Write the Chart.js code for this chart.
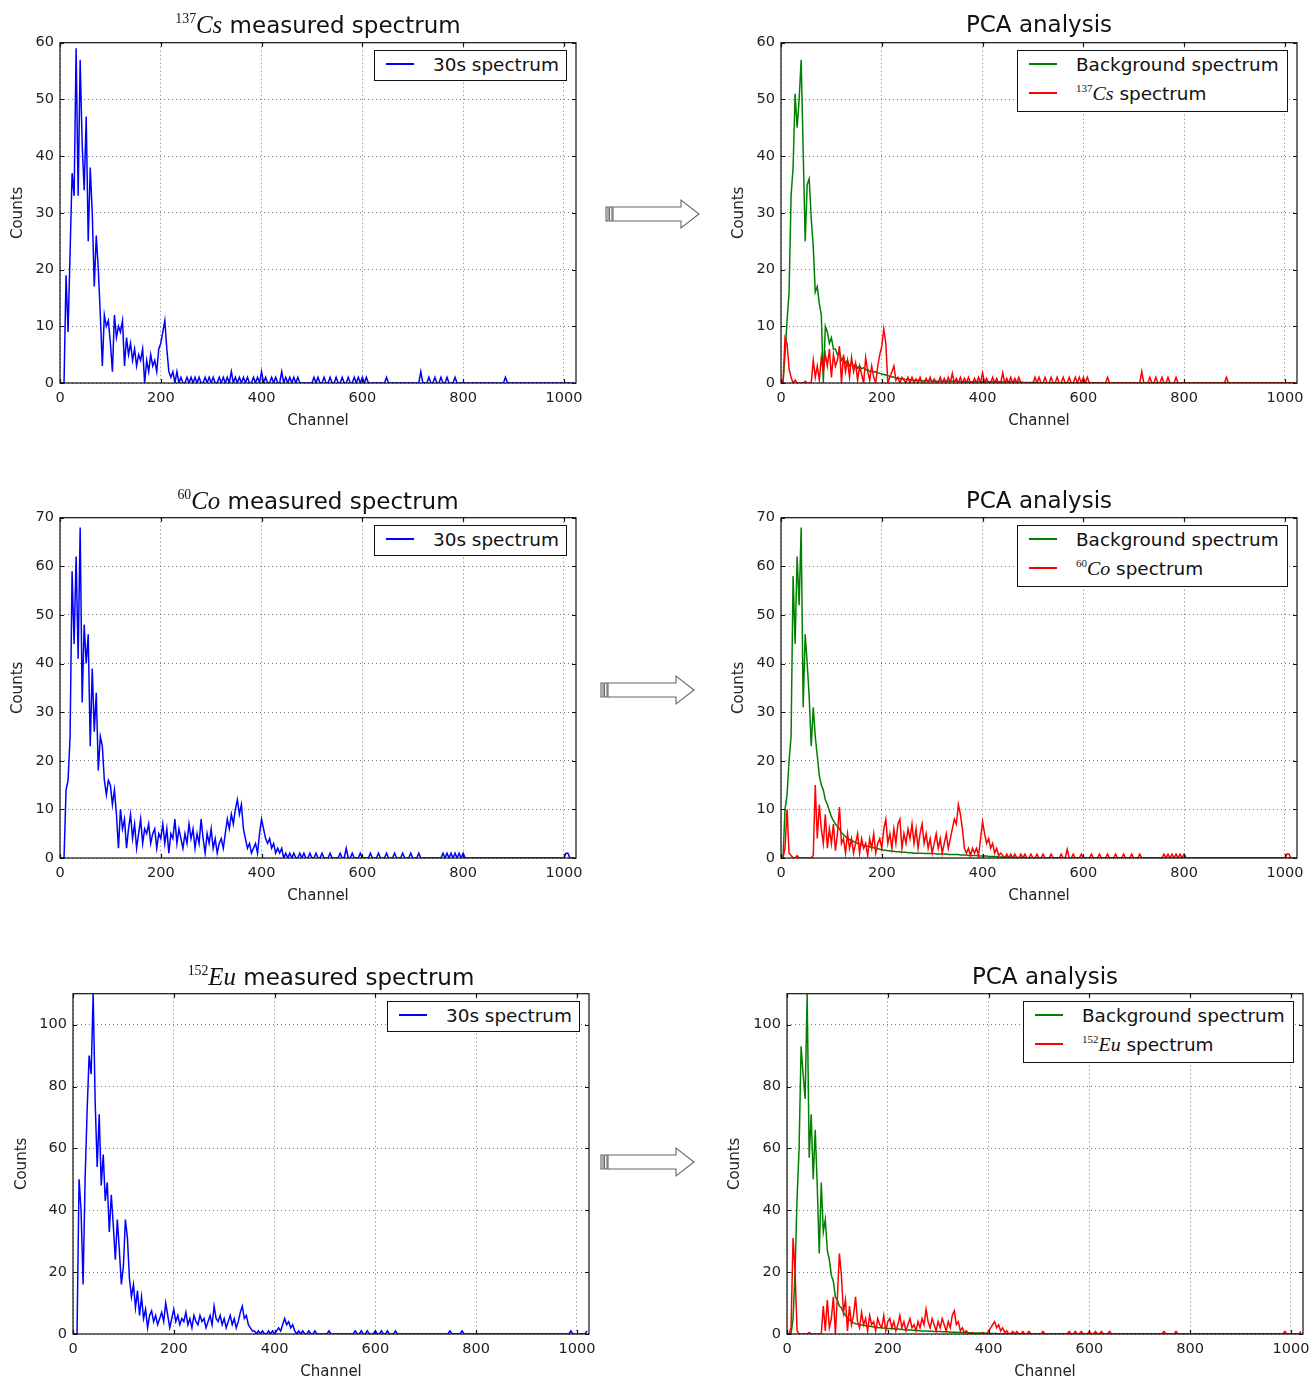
<!DOCTYPE html>
<html>
<head>
<meta charset="utf-8">
<script src="https://cdn.jsdelivr.net/npm/chart.js@4.4.0/dist/chart.umd.min.js"></script>
<style>
  body { margin: 0; background: #fff; width: 1312px; height: 1381px; position: relative; overflow: hidden;
         font-family: "DejaVu Sans", sans-serif; color: #111; }
  canvas { position: absolute; }
  .title { position: absolute; font-size: 23px; line-height: 23px; white-space: nowrap; transform: translateX(-50%); }
  .legend { position: absolute; box-sizing: border-box; border: 1.5px solid #111; background: #fff; }
  .legend .row { position: absolute; left: 0; height: 29px; line-height: 29px; font-size: 18.4px; white-space: nowrap; }
  .legend .swatch { position: absolute; left: 11px; top: 13px; width: 28px; height: 2px; }
  .legend .text { position: absolute; left: 58px; }
  sup { font-family: "Liberation Serif", serif; font-size: 0.6em; line-height: 0; vertical-align: 0.75em; }
  i.m { font-family: "Liberation Serif", serif; font-size: 1.08em; }
</style>
</head>
<body>
<svg style="position:absolute;left:0;top:0" width="1312" height="1381">
  <defs>
    <g id="arrow" fill="#fff" stroke="#666" stroke-width="1.1">
      <rect x="0" y="-7" width="2" height="14"/>
      <rect x="3.5" y="-7" width="2.5" height="14"/>
      <polygon points="7,-7 75,-7 75,-14 93,0 75,14 75,7 7,7"/>
    </g>
  </defs>
  <use href="#arrow" transform="translate(606,214)"/>
  <use href="#arrow" transform="translate(601,690)"/>
  <use href="#arrow" transform="translate(601,1162)"/>
</svg>
<script>
// counts are listed every 4th channel, starting at channel 0
const channelStep = 4;
const channelTicks = [0, 200, 400, 600, 800, 1000];
const countTicksCs = [0, 10, 20, 30, 40, 50, 60];
const countTicksCo = [0, 10, 20, 30, 40, 50, 60, 70];
const countTicksEu = [0, 20, 40, 60, 80, 100];

const cs137Measured = [
  0,0,0,19,9,23,37,33,59,33,57,42,34,47,25,38,
  30,17,26,20,12,3,12,10,11,7,2,12,8,10,9,11,
  3,8,5,7,4,6,3,5,4,6,0,4,2,5,3,4,
  2,6,7,9,11,6,2,1,2,0,2,0,1,0,0,1,
  0,1,0,1,0,1,0,0,1,0,1,0,1,0,0,1,
  0,1,0,1,0,2,0,1,0,1,0,1,0,1,0,0,
  1,0,1,0,2,0,1,0,0,1,0,1,0,0,2,0,
  1,0,1,0,1,0,1,0,0,0,0,0,0,0,1,0,
  1,0,0,1,0,0,1,0,0,1,0,0,1,0,0,1,
  0,0,1,0,1,0,1,0,1,0,0,0,0,0,0,0,
  0,0,1,0,0,0,0,0,0,0,0,0,0,0,0,0,
  0,0,0,2,0,0,0,1,0,0,1,0,0,1,0,0,
  1,0,0,0,1,0,0,0,0,0,0,0,0,0,0,0,
  0,0,0,0,0,0,0,0,0,0,0,0,0,1,0,0,
  0,0,0,0,0,0,0,0,0,0,0,0,0,0,0,0,
  0,0,0,0,0,0,0,0,0,0,0,0,0,0,0,0
];
const cs137Background = [
  0,0,5,11,16,33,38,51,45,50,57,41,25,35,36,29,
  24,16,17,14,12,0,10,9,7,8,6,6,5,5.5,4,4.5,
  3.5,4,3,3.5,3,3.2,2.6,3,2.5,2.7,2.3,2.4,2,2.2,1.9,2,
  1.8,1.7,1.6,1.5,1.4,1.3,1.2,1.1,1,0.9,0.9,0.8,0.7,0.7,0.6,0.6,
  0.6,0.5,0.5,0.5,0.5,0.4,0.4,0.4,0.4,0.4,0.4,0.3,0.3,0.3,0.3,0.3,
  0.3,0.3,0.3,0.3,0.3,0.3,0.3,0.3,0.2,0.2,0.2,0.2,0.2,0.2,0.2,0.2,
  0.2,0.2,0.2,0.2,0.2,0.2,0.2,0.2,0.2,0.2,0.2,0.2,0.2,0.2,0.2,0.2,
  0.2,0.2,0.2,0.2,0.2,0.2,0.2,0.2,0.1,0.1,0.1,0.1,0.1,0.1,0.1,0.1,
  0,0,0,0,0,0,0,0,0,0,0,0,0,0,0,0,
  0,0,0,0,0,0,0,0,0,0,0,0,0,0,0,0,
  0,0,0,0,0,0,0,0,0,0,0,0,0,0,0,0,
  0,0,0,0,0,0,0,0,0,0,0,0,0,0,0,0,
  0,0,0,0,0,0,0,0,0,0,0,0,0,0,0,0,
  0,0,0,0,0,0,0,0,0,0,0,0,0,0,0,0,
  0,0,0,0,0,0,0,0,0,0,0,0,0,0,0,0,
  0,0,0,0,0,0,0,0,0,0,0,0,0,0,0,0
];
const cs137Pca = [
  0,0,8,7,2.5,1,0,0.5,0,0,0,0,0.3,0,0,0,
  4,1,3,0.5,4.5,2,5,3,6,1,5,3,4,6.5,0,5,
  2,4,1,4.5,2,3.5,0.5,3,1.5,0,4.5,2,0.5,3,1,0,
  3,5,6.5,9.5,7,0,1,2,3,0.5,1,0,1,0.5,0,1,
  0,1,0,0.7,0,1,0,0,0.8,0,1,0,0.7,0,0,1,
  0,0.8,0,1,0,1.7,0,0.8,0,1,0,0.8,0,1,0,0,
  0.8,0,1,0,1.8,0,0.8,0,0,1,0,0.8,0,0,1.8,0,
  0.8,0,1,0,0.8,0,1,0,0,0,0,0,0,0,1,0,
  1,0,0,1,0,0,1,0,0,1,0,0,1,0,0,1,
  0,0,1,0,1,0,1,0,1,0,0,0,0,0,0,0,
  0,0,1,0,0,0,0,0,0,0,0,0,0,0,0,0,
  0,0,0,2,0,0,0,1,0,0,1,0,0,1,0,0,
  1,0,0,0,1,0,0,0,0,0,0,0,0,0,0,0,
  0,0,0,0,0,0,0,0,0,0,0,0,0,1,0,0,
  0,0,0,0,0,0,0,0,0,0,0,0,0,0,0,0,
  0,0,0,0,0,0,0,0,0,0,0,0,0,0,0,0
];

const co60Measured = [
  0,0,0,14,16,25,59,44,62,41,68,32,48,40,46,23,
  39,26,34,18,25,23,16,13,16,15,11,14,9,2,10,6,
  8,2,6,9,4,7,2,5,8,3,6,5,7,3,5,6,
  2,5,4,7,3,6,1,5,4,8,3,6,4,2,5,3,
  7,4,6,2,5,3,8,4,1,5,3,6,2,4,1,3,
  4,2,5,8,6,9,7,10,12,9,11,6,4,2,3,1,
  2,3,1,5,8,6,4,3,4,2,3,1,2,1,2,0,
  1,0,1,0,1,0,0,1,0,1,0,0,1,0,0,1,
  0,0,1,0,0,0,1,0,0,0,0,1,0,0,2,0,
  0,1,0,0,0,1,0,0,0,0,1,0,0,0,1,0,
  0,0,1,0,0,0,1,0,0,0,1,0,0,0,1,0,
  0,0,1,0,0,0,0,0,0,0,0,0,0,0,1,0,
  1,0,1,0,1,0,1,0,1,0,0,0,0,0,0,0,
  0,0,0,0,0,0,0,0,0,0,0,0,0,0,0,0,
  0,0,0,0,0,0,0,0,0,0,0,0,0,0,0,0,
  0,0,0,0,0,0,0,0,0,0,0,1,1,0,0,0
];
const co60Background = [
  0,0,10,13,20,25,58,44,62,52,68,31,46,40,33,23,
  31,25,21,17,15,14,12,11,9.7,8.5,7.7,7,6.5,6,5.2,4.8,
  4.4,4,3.8,3.6,3.4,3.2,3,2.9,2.7,2.6,2.5,2.4,2.3,2.2,2.1,2,
  1.9,1.8,1.7,1.6,1.6,1.5,1.5,1.4,1.4,1.3,1.3,1.3,1.2,1.2,1.2,1.1,
  1.1,1.1,1,1,1,1,1,0.9,0.9,0.9,0.9,0.9,0.9,0.8,0.8,0.8,
  0.8,0.8,0.8,0.7,0.7,0.7,0.7,0.7,0.7,0.6,0.6,0.6,0.6,0.5,0.5,0.5,
  0.5,0.5,0.4,0.4,0.4,0.4,0.4,0.3,0.3,0.3,0.3,0.3,0.2,0.2,0.2,0.2,
  0.2,0.2,0.2,0.1,0.1,0.1,0.1,0.1,0.1,0.1,0,0,0,0,0,0,
  0,0,0,0,0,0,0,0,0,0,0,0,0,0,0,0,
  0,0,0,0,0,0,0,0,0,0,0,0,0,0,0,0,
  0,0,0,0,0,0,0,0,0,0,0,0,0,0,0,0,
  0,0,0,0,0,0,0,0,0,0,0,0,0,0,0,0,
  0,0,0,0,0,0,0,0,0,0,0,0,0,0,0,0,
  0,0,0,0,0,0,0,0,0,0,0,0,0,0,0,0,
  0,0,0,0,0,0,0,0,0,0,0,0,0,0,0,0,
  0,0,0,0,0,0,0,0,0,0,0,0,0,0,0,0
];
const co60Pca = [
  0,0,2,10,1,0.5,0,0,0.5,0,0,0,0,0,0,0,
  0.5,15,4,11,6,3,9,2,6,3,7,1.5,5,10.5,3,4,
  1,5,2,4,1,3,5,1,4,2,3,0.5,4,2,5,1,
  3,4,2,6,8,3,5,2,6,3,7,8,2,5,3,6,
  4,7,3,6,2,5,7,3,5,2,4,1,3,5,2,4,
  1,3,5,2,4,6,8,7,11,9,6,2,1,2,0.5,2,
  1,2,0.5,4,7.5,5,3,4,2,3,1,2,0.5,1,0.5,0,
  0.8,0,0.8,0,0.8,0,0,0.8,0,0.8,0,0,0.8,0,0,0.8,
  0,0,0.8,0,0,0,0.8,0,0,0,0,0.8,0,0,1.8,0,
  0,0.8,0,0,0,0.8,0,0,0,0,0.8,0,0,0,0.8,0,
  0,0,0.8,0,0,0,0.8,0,0,0,0.8,0,0,0,0.8,0,
  0,0,0.8,0,0,0,0,0,0,0,0,0,0,0,0.8,0,
  0.8,0,0.8,0,0.8,0,0.8,0,0.8,0,0,0,0,0,0,0,
  0,0,0,0,0,0,0,0,0,0,0,0,0,0,0,0,
  0,0,0,0,0,0,0,0,0,0,0,0,0,0,0,0,
  0,0,0,0,0,0,0,0,0,0,0,0.8,0.8,0,0,0
];

const eu152Measured = [
  0,0,0,50,40,16,50,72,90,84,110,75,54,71,48,58,
  43,49,33,45,35,24,37,27,16,22,37,31,18,12,16,8.5,
  14,6,12,5,8,2,6,7.5,4,6,3,5,7,4,10,6,
  2,5,8,4,6,3,5,4,7,3,5,2,6,4,3,6,
  4,5,2,4,6,3,9,5,4,6,3,5,2,4,6,3,
  5,2,4,7,9,5,6,3,2,1,1,0,1,0,1,0,
  0,1,0,1,0,1,2,1,3,5,3,4,2,3,1,0,
  1,0,1,0,0,1,0,0,1,0,0,0,0,0,0,1,
  0,0,0,0,0,0,0,0,0,0,0,0,1,0,0,1,
  0,0,1,0,0,0,1,0,0,1,0,0,1,0,0,0,
  1,0,0,0,0,0,0,0,0,0,0,0,0,0,0,0,
  0,0,0,0,0,0,0,0,0,0,0,1,0,0,0,0,
  0,1,0,0,0,0,0,0,0,0,0,0,0,0,0,0,
  0,0,0,0,0,0,0,0,0,0,0,0,0,0,0,0,
  0,0,0,0,0,0,0,0,0,0,0,0,0,0,0,0,
  0,0,0,0,0,0,0,1,0,0,0,0,0,0,0,1
];
const eu152Background = [
  0,0,0,5,20,44,60,93,84,76,110,57,71,50,66,48,
  26,49,33,37,27,24,19,17,12,11,9,8.5,7,6,5.3,4.5,
  4,3.6,3.3,3.2,3,2.9,2.8,2.7,2.6,2.5,2.4,2.3,2.2,2.1,2,2,
  1.9,1.9,1.8,1.8,1.7,1.7,1.6,1.6,1.5,1.5,1.4,1.4,1.3,1.3,1.2,1.2,
  1.1,1.1,1,1,1,1,0.9,0.9,0.9,0.8,0.8,0.8,0.8,0.7,0.7,0.7,
  0.7,0.6,0.6,0.6,0.6,0.5,0.5,0.5,0.5,0.4,0.4,0.4,0.4,0.3,0.3,0.3,
  0.3,0.3,0.3,0.2,0.2,0.2,0.2,0.2,0.2,0.1,0.1,0.1,0.1,0.1,0.1,0.1,
  0,0,0,0,0,0,0,0,0,0,0,0,0,0,0,0,
  0,0,0,0,0,0,0,0,0,0,0,0,0,0,0,0,
  0,0,0,0,0,0,0,0,0,0,0,0,0,0,0,0,
  0,0,0,0,0,0,0,0,0,0,0,0,0,0,0,0,
  0,0,0,0,0,0,0,0,0,0,0,0,0,0,0,0,
  0,0,0,0,0,0,0,0,0,0,0,0,0,0,0,0,
  0,0,0,0,0,0,0,0,0,0,0,0,0,0,0,0,
  0,0,0,0,0,0,0,0,0,0,0,0,0,0,0,0,
  0,0,0,0,0,0,0,0,0,0,0,0,0,0,0,0
];
const eu152Pca = [
  0,0,2,31,20,1,0,0,0,0,0,0.5,0,0,0,0,
  0,0,9,1,11,2,5,12,0,12,26,19,7,11,1,9,
  3,6,12,4,2,7,3,5,1,6,3,4,1,5,3,2,
  6,1,4,5,2,4,1,3,6,2,4,1,3,5,2,3,
  1,4,2,5,3,8,4,2,5,3,1,4,2,5,3,1,
  4,2,6,7.5,3,4,1,2,0.5,1,0,0,0.5,0,0,0,
  0,0.5,0,0,1,2,3,4,2,3,1,2,0.5,1,0,0,
  0.8,0,0.8,0,0,0.8,0,0,0.8,0,0,0,0,0,0,0.8,
  0,0,0,0,0,0,0,0,0,0,0,0,0.8,0,0,0.8,
  0,0,0.8,0,0,0,0.8,0,0,0.8,0,0,0.8,0,0,0,
  0.8,0,0,0,0,0,0,0,0,0,0,0,0,0,0,0,
  0,0,0,0,0,0,0,0,0,0,0,0.8,0,0,0,0,
  0,0.8,0,0,0,0,0,0,0,0,0,0,0,0,0,0,
  0,0,0,0,0,0,0,0,0,0,0,0,0,0,0,0,
  0,0,0,0,0,0,0,0,0,0,0,0,0,0,0,0,
  0,0,0,0,0,0,0,0.8,0,0,0,0,0,0,0,0.8
];

const BLUE = '#0000ff', GREEN = '#008000', RED = '#ff0000';
const cs = '<sup>137</sup><i class="m">Cs</i>';
const co = '<sup>60</sup><i class="m">Co</i>';
const eu = '<sup>152</sup><i class="m">Eu</i>';

// plot box of each panel (left/top of the axes frame), axisWidth moves the "Counts" label
const panels = [
  { left: 60,  top: 40,  axisWidth: 51, titleY: 12.6, yMax: 60,  yTicks: countTicksCs,
    title: cs + ' measured spectrum',
    series: [{ values: cs137Measured, color: BLUE, label: '30s spectrum', order: 0 }] },
  { left: 781, top: 40,  axisWidth: 51, titleY: 12.6, yMax: 60,  yTicks: countTicksCs,
    title: 'PCA analysis',
    series: [{ values: cs137Background, color: GREEN, label: 'Background spectrum', order: 1 },
             { values: cs137Pca, color: RED, label: cs + ' spectrum', order: 0 }] },
  { left: 60,  top: 515, axisWidth: 51, titleY: 488.6, yMax: 70, yTicks: countTicksCo,
    title: co + ' measured spectrum',
    series: [{ values: co60Measured, color: BLUE, label: '30s spectrum', order: 0 }] },
  { left: 781, top: 515, axisWidth: 51, titleY: 488.6, yMax: 70, yTicks: countTicksCo,
    title: 'PCA analysis',
    series: [{ values: co60Background, color: GREEN, label: 'Background spectrum', order: 1 },
             { values: co60Pca, color: RED, label: co + ' spectrum', order: 0 }] },
  { left: 73,  top: 991, axisWidth: 60, titleY: 964.6, yMax: 110, yTicks: countTicksEu,
    title: eu + ' measured spectrum',
    series: [{ values: eu152Measured, color: BLUE, label: '30s spectrum', order: 0 }] },
  { left: 787, top: 991, axisWidth: 61, titleY: 964.6, yMax: 110, yTicks: countTicksEu,
    title: 'PCA analysis',
    series: [{ values: eu152Background, color: GREEN, label: 'Background spectrum', order: 1 },
             { values: eu152Pca, color: RED, label: eu + ' spectrum', order: 0 }] }
];

const PLOT_W = 516, PLOT_H = 343, PAD_TOP = 12, PAD_RIGHT = 26, X_AXIS_H = 47;
const tickFont = { family: 'DejaVu Sans', size: 14.5 };
const labelFont = { family: 'DejaVu Sans', size: 15 };

// black frame around the axes plus matplotlib style inward ticks on all four sides
const framePlugin = {
  id: 'frame',
  afterDraw(chart) {
    const { ctx, chartArea: a, scales: { x, y } } = chart;
    ctx.save();
    ctx.strokeStyle = '#111';
    ctx.lineWidth = 1.2;
    ctx.beginPath();
    x.ticks.forEach(t => {
      const px = Math.round(x.getPixelForValue(t.value)) + 0.5;
      ctx.moveTo(px, a.bottom); ctx.lineTo(px, a.bottom - 4);
      ctx.moveTo(px, a.top); ctx.lineTo(px, a.top + 4);
    });
    y.ticks.forEach(t => {
      const py = Math.round(y.getPixelForValue(t.value)) + 0.5;
      ctx.moveTo(a.left, py); ctx.lineTo(a.left + 4, py);
      ctx.moveTo(a.right, py); ctx.lineTo(a.right - 4, py);
    });
    ctx.stroke();
    ctx.strokeRect(a.left, a.top, a.right - a.left, a.bottom - a.top);
    ctx.restore();
  }
};

function toPoints(values) {
  return values.map((v, i) => ({ x: i * channelStep, y: v }));
}

function addTitle(p) {
  const div = document.createElement('div');
  div.className = 'title';
  div.style.left = (p.left + PLOT_W / 2) + 'px';
  div.style.top = p.titleY + 'px';
  div.innerHTML = p.title;
  document.body.appendChild(div);
}

function addLegend(p) {
  const wide = p.series.length > 1;
  const box = document.createElement('div');
  box.className = 'legend';
  const w = wide ? 271 : 193, h = wide ? 62 : 31;
  box.style.left = (p.left + PLOT_W - 9 - w) + 'px';
  box.style.top = (p.top + 10) + 'px';
  box.style.width = w + 'px';
  box.style.height = h + 'px';
  p.series.forEach((s, i) => {
    const row = document.createElement('div');
    row.className = 'row';
    row.style.top = (i * 29 - 1) + 'px';
    const sw = document.createElement('span');
    sw.className = 'swatch';
    sw.style.backgroundColor = s.color;
    const tx = document.createElement('span');
    tx.className = 'text';
    tx.innerHTML = s.label;
    row.appendChild(sw);
    row.appendChild(tx);
    box.appendChild(row);
  });
  document.body.appendChild(box);
}

function makePanel(p) {
  const canvas = document.createElement('canvas');
  canvas.width = p.axisWidth + PLOT_W + PAD_RIGHT;
  canvas.height = PAD_TOP + PLOT_H + X_AXIS_H;
  canvas.style.left = (p.left - p.axisWidth) + 'px';
  canvas.style.top = (p.top - PAD_TOP) + 'px';
  document.body.appendChild(canvas);

  new Chart(canvas, {
    type: 'line',
    data: {
      datasets: p.series.map(s => ({
        data: toPoints(s.values),
        borderColor: s.color,
        borderWidth: 1.5,
        pointRadius: 0,
        tension: 0,
        fill: false,
        order: s.order
      }))
    },
    options: {
      responsive: false,
      animation: false,
      events: [],
      layout: { padding: { top: PAD_TOP, right: PAD_RIGHT, left: 0, bottom: 0 } },
      plugins: { legend: { display: false }, tooltip: { enabled: false } },
      scales: {
        x: {
          type: 'linear', min: 0, max: 1024,
          afterBuildTicks: s => { s.ticks = channelTicks.map(v => ({ value: v })); },
          afterFit: s => { s.height = X_AXIS_H; },
          grid: { color: '#555', lineWidth: 0.8, drawTicks: false },
          border: { display: false, dash: [1, 3] },
          ticks: { font: tickFont, color: '#222', padding: 7, maxRotation: 0, autoSkip: false,
                   callback: v => String(v) },
          title: { display: true, text: 'Channel', font: labelFont, color: '#222', padding: 0 }
        },
        y: {
          type: 'linear', min: 0, max: p.yMax,
          afterBuildTicks: s => { s.ticks = p.yTicks.map(v => ({ value: v })); },
          afterFit: s => { s.width = p.axisWidth; },
          grid: { color: '#555', lineWidth: 0.8, drawTicks: false },
          border: { display: false, dash: [1, 3] },
          ticks: { font: tickFont, color: '#222', padding: 6, callback: v => String(v) },
          title: { display: true, text: 'Counts', font: labelFont, color: '#222', padding: 0 }
        }
      }
    },
    plugins: [framePlugin]
  });

  addTitle(p);
  addLegend(p);
}

panels.forEach(makePanel);
</script>
</body>
</html>
